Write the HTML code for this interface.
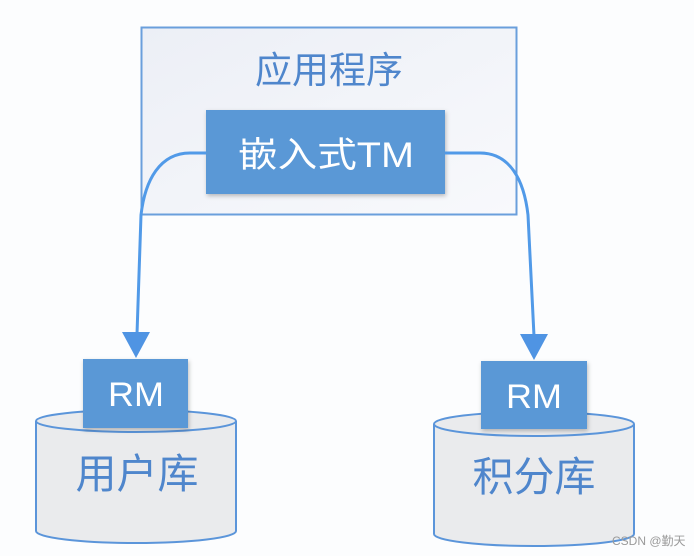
<!DOCTYPE html>
<html><head><meta charset="utf-8"><style>
body{margin:0;background:#fcfdfe;}
svg{display:block}
text{font-family:"Liberation Sans","Noto Sans CJK SC",sans-serif;}
</style></head><body>
<svg width="694" height="556" viewBox="0 0 694 556" xmlns="http://www.w3.org/2000/svg">
<defs>
<linearGradient id="g" x1="0" y1="0" x2="1" y2="1"><stop offset="0" stop-color="#eceff6"/><stop offset="1" stop-color="#f8f9fc"/></linearGradient>
<filter id="s" x="-10%" y="-10%" width="130%" height="130%"><feDropShadow dx="1" dy="2" stdDeviation="2" flood-color="#000" flood-opacity="0.25"/></filter>
</defs>
<rect width="694" height="556" fill="#fcfdfe"/>
<rect x="141.5" y="27.5" width="375" height="187" fill="url(#g)" stroke="#6a9fdc" stroke-width="2"/>
<text x="329" y="83" font-size="37" fill="#4f86cc" text-anchor="middle">应用程序</text>
<rect x="206" y="110" width="239" height="84" fill="#5a98d6" filter="url(#s)"/>
<text x="326" y="167" font-size="35" fill="#fff" text-anchor="middle" textLength="176" lengthAdjust="spacingAndGlyphs">嵌入式TM</text>
<g fill="none" stroke="#519ae8" stroke-width="3">
<path d="M206,153 L190,153 C160,153 145,180 141,215 L137,334"/>
<path d="M445,153 L480,153 C510,153 524,180 528,215 L534,336"/>
</g>
<polygon points="122,332 150,332 136,358" fill="#4f94e3"/>
<polygon points="520,334 548,334 534,360" fill="#4f94e3"/>
<path d="M36,421 L36,531 A100,12 0 0 0 236,531 L236,421" fill="#eaebed" stroke="#5b95da" stroke-width="2"/>
<ellipse cx="136" cy="421" rx="100" ry="11" fill="#eaebed" stroke="#5b95da" stroke-width="2"/>
<rect x="83" y="359" width="105" height="69" fill="#5a98d6" filter="url(#s)"/>
<text x="136" y="406" font-size="34" fill="#fff" text-anchor="middle" textLength="56" lengthAdjust="spacingAndGlyphs">RM</text>
<text x="137" y="488" font-size="41" fill="#4f86cc" text-anchor="middle">用户库</text>
<path d="M434,424 L434,534 A100,12 0 0 0 634,534 L634,424" fill="#eaebed" stroke="#5b95da" stroke-width="2"/>
<ellipse cx="534" cy="424" rx="100" ry="12" fill="#eaebed" stroke="#5b95da" stroke-width="2"/>
<rect x="481" y="361" width="106" height="68" fill="#5a98d6" filter="url(#s)"/>
<text x="534" y="408" font-size="34" fill="#fff" text-anchor="middle" textLength="56" lengthAdjust="spacingAndGlyphs">RM</text>
<text x="534" y="491" font-size="41" fill="#4f86cc" text-anchor="middle">积分库</text>
<text x="612" y="545" font-size="12" fill="#9a9a9a">CSDN @勤天</text>
</svg>
</body></html>
